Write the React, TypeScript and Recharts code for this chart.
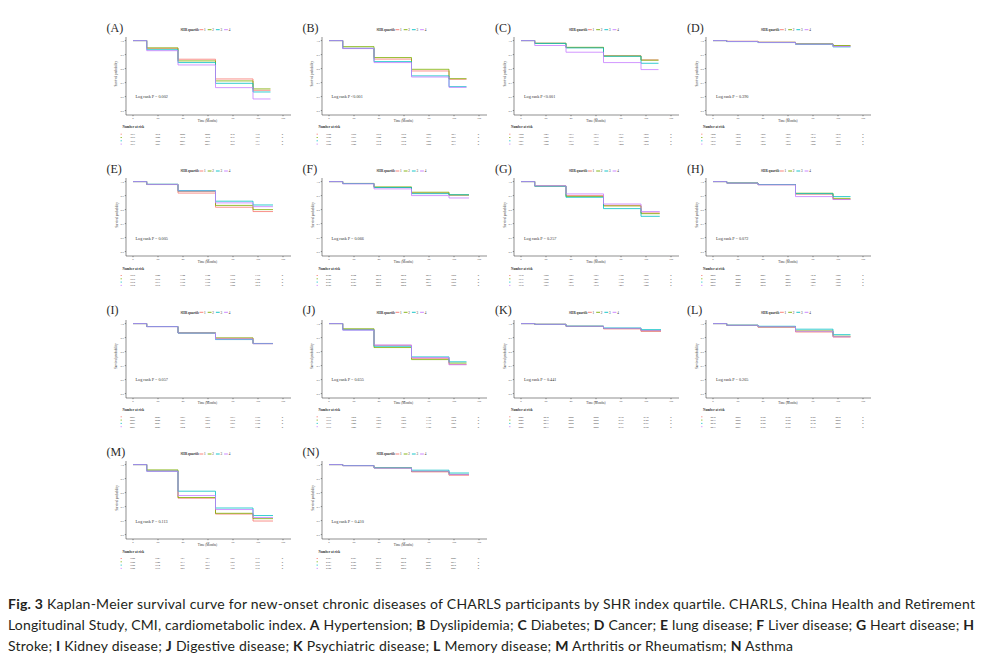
import React from 'react';
import { LineChart, Line, XAxis, YAxis } from 'recharts';

// ggplot default hues for SHR quartile 1..4
const QUARTILE_COLORS = ['#F8766D', '#7CAE00', '#00BFC4', '#C77CFF'];
const quartiles = ['1', '2', '3', '4'];
const panelLetters = ['A', 'B', 'C', 'D', 'E', 'F', 'G', 'H', 'I', 'J', 'K', 'L', 'M', 'N'];

const stepMonths = [0, 11, 36, 66, 96];
const endMonths = [110, 110, 110, 110, 112, 112, 111, 110, 112, 110, 112, 110, 112, 112];
const monthTicks = [0, 20, 40, 60, 80, 100, 120];
const probTicks = [0.5, 0.6, 0.7, 0.8, 0.9, 1.0];

const logRankP = [
  'P = 0.002', 'P <0.001', 'P <0.001', 'P = 0.390',
  'P = 0.005', 'P = 0.066', 'P = 0.257', 'P = 0.072',
  'P = 0.057', 'P = 0.655', 'P = 0.441', 'P = 0.265',
  'P = 0.113', 'P = 0.410',
];

// survival level after each wave (4 drops), one row per quartile
const survA = [[0.945, 0.867, 0.726, 0.645], [0.948, 0.855, 0.712, 0.655], [0.935, 0.843, 0.695, 0.633], [0.928, 0.826, 0.664, 0.583]];
const survB = [[0.945, 0.868, 0.783, 0.724], [0.957, 0.879, 0.795, 0.728], [0.945, 0.85, 0.748, 0.671], [0.943, 0.843, 0.74, 0.666]];
const survC = [[0.981, 0.95, 0.892, 0.862], [0.981, 0.952, 0.89, 0.86], [0.98, 0.948, 0.888, 0.838], [0.965, 0.917, 0.843, 0.793]];
const survD = [[0.995, 0.988, 0.976, 0.962], [0.994, 0.988, 0.977, 0.965], [0.993, 0.986, 0.974, 0.955], [0.994, 0.987, 0.975, 0.958]];
const survE = [[0.979, 0.918, 0.817, 0.786], [0.98, 0.93, 0.83, 0.8], [0.981, 0.936, 0.86, 0.833], [0.98, 0.932, 0.848, 0.821]];
const survF = [[0.986, 0.958, 0.918, 0.903], [0.987, 0.962, 0.924, 0.905], [0.986, 0.958, 0.914, 0.906], [0.984, 0.948, 0.9, 0.883]];
const survG = [[0.969, 0.9, 0.83, 0.776], [0.968, 0.894, 0.826, 0.771], [0.967, 0.888, 0.807, 0.752], [0.97, 0.912, 0.84, 0.786]];
const survH = [[0.99, 0.978, 0.91, 0.873], [0.99, 0.979, 0.917, 0.88], [0.99, 0.979, 0.914, 0.893], [0.989, 0.977, 0.893, 0.872]];
const survI = [[0.979, 0.933, 0.895, 0.858], [0.979, 0.934, 0.898, 0.857], [0.979, 0.932, 0.886, 0.858], [0.978, 0.933, 0.89, 0.856]];
const survJ = [[0.958, 0.845, 0.752, 0.708], [0.963, 0.829, 0.743, 0.718], [0.955, 0.838, 0.762, 0.727], [0.953, 0.847, 0.757, 0.706]];
const survK = [[0.995, 0.98, 0.962, 0.944], [0.995, 0.981, 0.965, 0.95], [0.995, 0.982, 0.969, 0.957], [0.995, 0.981, 0.966, 0.95]];
const survL = [[0.987, 0.974, 0.94, 0.904], [0.988, 0.977, 0.948, 0.91], [0.989, 0.981, 0.96, 0.921], [0.988, 0.977, 0.945, 0.906]];
const survM = [[0.955, 0.76, 0.647, 0.597], [0.962, 0.765, 0.652, 0.614], [0.953, 0.81, 0.69, 0.636], [0.952, 0.779, 0.679, 0.622]];
const survN = [[0.993, 0.976, 0.948, 0.924], [0.993, 0.977, 0.951, 0.93], [0.993, 0.977, 0.96, 0.94], [0.992, 0.975, 0.952, 0.929]];

// number at risk at 0,20,...,120 months
const riskA = [[3237, 3032, 2998, 2998, 930, 770, 0], [3236, 3040, 3010, 3010, 936, 782, 0], [3236, 3022, 2987, 2987, 918, 751, 0], [3237, 3027, 2963, 2963, 885, 716, 0]];
const riskB = [[1622, 1558, 1238, 1238, 1025, 883, 0], [1622, 1557, 1240, 1240, 1033, 898, 0], [1621, 1550, 1230, 1230, 1005, 865, 0], [1622, 1548, 1232, 1232, 1002, 863, 0]];
const riskC = [[1882, 1843, 1813, 1813, 1537, 1255, 0], [1882, 1845, 1816, 1816, 1541, 1262, 0], [1881, 1840, 1813, 1813, 1531, 1248, 0], [1881, 1829, 1788, 1788, 1492, 1210, 0]];
const riskD = [[1980, 1965, 1956, 1956, 1933, 1919, 0], [1975, 1960, 1953, 1953, 1930, 1917, 0], [1975, 1958, 1951, 1951, 1926, 1909, 0], [1976, 1962, 1954, 1954, 1929, 1910, 0]];
const riskE = [[1878, 1840, 1744, 1744, 1558, 1378, 0], [1875, 1838, 1750, 1750, 1570, 1398, 0], [1872, 1837, 1759, 1759, 1599, 1430, 0], [1872, 1838, 1755, 1755, 1590, 1418, 0]];
const riskF = [[2128, 2104, 2070, 2070, 2015, 1958, 0], [2128, 2106, 2075, 2075, 2023, 1964, 0], [2127, 2103, 2068, 2068, 2011, 1955, 0], [2128, 2100, 2060, 2060, 1990, 1925, 0]];
const riskG = [[1638, 1592, 1503, 1503, 1389, 1226, 0], [1637, 1590, 1497, 1497, 1382, 1218, 0], [1637, 1588, 1491, 1491, 1362, 1195, 0], [1638, 1593, 1512, 1512, 1403, 1242, 0]];
const riskH = [[2066, 2045, 2021, 2021, 1934, 1828, 0], [2064, 2044, 2023, 2023, 1946, 1849, 0], [2065, 2044, 2022, 2022, 1940, 1862, 0], [2066, 2043, 2018, 2018, 1911, 1809, 0]];
const riskI = [[2087, 2045, 1953, 1953, 1873, 1755, 0], [2086, 2044, 1955, 1955, 1879, 1758, 0], [2087, 2043, 1951, 1951, 1857, 1752, 0], [2087, 2045, 1954, 1954, 1867, 1749, 0]];
const riskJ = [[1516, 1459, 1281, 1281, 1129, 1005, 0], [1516, 1452, 1255, 1255, 1116, 1014, 0], [1516, 1448, 1268, 1268, 1135, 1023, 0], [1516, 1445, 1283, 1283, 1128, 1002, 0]];
const riskK = [[2246, 2234, 2200, 2200, 2170, 2139, 0], [2245, 2233, 2202, 2202, 2175, 2148, 0], [2245, 2233, 2204, 2204, 2181, 2157, 0], [2246, 2233, 2202, 2202, 2176, 2150, 0]];
const riskL = [[2232, 2205, 2180, 2180, 2105, 2014, 0], [2233, 2208, 2185, 2185, 2120, 2028, 0], [2232, 2209, 2190, 2190, 2134, 2055, 0], [2233, 2207, 2185, 2185, 2116, 2022, 0]];
const riskM = [[1609, 1543, 797, 797, 686, 635, 0], [1609, 1549, 813, 813, 698, 652, 0], [1609, 1534, 856, 856, 736, 678, 0], [1609, 1536, 825, 825, 720, 670, 0]];
const riskN = [[2323, 2307, 2270, 2270, 2235, 2206, 0], [2323, 2306, 2270, 2270, 2241, 2211, 0], [2323, 2308, 2273, 2273, 2247, 2219, 0], [2322, 2305, 2268, 2268, 2236, 2207, 0]];

const survival = [survA, survB, survC, survD, survE, survF, survG, survH, survI, survJ, survK, survL, survM, survN];
const riskTables = [riskA, riskB, riskC, riskD, riskE, riskF, riskG, riskH, riskI, riskJ, riskK, riskL, riskM, riskN];

// layout (px)
const colAxisX = [125.5, 321.5, 514, 706];
const rowTop = [40.7, 182, 323.3, 465];
const PX_PER_MONTH = 1.25;
const PX_PER_PROB = 140;
const PLOT_W = 165;
const PLOT_H = 78;
const X_DOMAIN = [-7 / PX_PER_MONTH, -7 / PX_PER_MONTH + PLOT_W / PX_PER_MONTH];
const Y_DOMAIN = [1 + 3.6 / PX_PER_PROB - PLOT_H / PX_PER_PROB, 1 + 3.6 / PX_PER_PROB];

const SERIF = "'Liberation Serif', 'DejaVu Serif', serif";
const SANS = "Lato, 'Open Sans', sans-serif";

function buildRows(levels: number[][], end: number) {
  const times = [...stepMonths, end];
  return times.map((t, i) => {
    const row: Record<string, number> = { t };
    levels.forEach((lv, q) => {
      row['q' + (q + 1)] = i === 0 ? 1 : lv[Math.min(i - 1, lv.length - 1)];
    });
    return row;
  });
}

const tickStyle = { fontSize: 2.8, fill: '#555', fontFamily: SERIF };

const KMPanel = ({ idx }: { idx: number }) => {
  const col = idx % 4;
  const row = Math.floor(idx / 4);
  const ax = colAxisX[col];
  const top = rowTop[row];
  const data = buildRows(survival[idx], endMonths[idx]);
  return (
    <div style={{ position: 'absolute', left: ax - 20, top: top - 13.6 }}>
      <LineChart width={190} height={108} data={data} margin={{ top: 10, right: 5, bottom: 10, left: 8 }}>
        <XAxis
          dataKey="t"
          type="number"
          domain={X_DOMAIN}
          ticks={monthTicks}
          interval={0}
          height={10}
          allowDataOverflow
          tick={tickStyle}
          tickSize={1.2}
          tickMargin={0.8}
          stroke="#444"
          strokeWidth={0.6}
        />
        <YAxis
          type="number"
          domain={Y_DOMAIN}
          ticks={probTicks}
          interval={0}
          width={12}
          allowDataOverflow
          tick={tickStyle}
          tickSize={1.2}
          tickMargin={0.8}
          tickFormatter={(v: number) => v.toFixed(1)}
          stroke="#444"
          strokeWidth={0.6}
        />
        {quartiles.map((q, k) => (
          <Line
            key={q}
            type="stepAfter"
            dataKey={'q' + q}
            stroke={QUARTILE_COLORS[k]}
            strokeWidth={0.8}
            dot={false}
            activeDot={false}
            isAnimationActive={false}
          />
        ))}
      </LineChart>
    </div>
  );
};

const PanelText = ({ idx }: { idx: number }) => {
  const col = idx % 4;
  const row = Math.floor(idx / 4);
  const ax = colAxisX[col];
  const x0 = ax + 7;
  const top = rowTop[row];
  const legendX = x0 + 48;
  return (
    <g fontFamily={SERIF} fill="#333">
      <text x={ax - 19} y={top - 9} fontSize={12} fill="#2a2a2a">({panelLetters[idx]})</text>
      <text x={legendX} y={top - 9.8} fontSize={3.3} fontWeight="bold">SHR quartile</text>
      {quartiles.map((q, k) => {
        const sx = legendX + 19 + k * 8.2;
        return (
          <g key={q}>
            <line x1={sx} x2={sx + 3.8} y1={top - 11} y2={top - 11} stroke={QUARTILE_COLORS[k]} strokeWidth={0.9} />
            <text x={sx + 4.6} y={top - 9.8} fontSize={3.3}>{q}</text>
          </g>
        );
      })}
      <text
        x={ax - 8}
        y={top + 33}
        fontSize={3.2}
        textAnchor="middle"
        transform={`rotate(-90 ${ax - 8} ${top + 33})`}
      >
        Survival probability
      </text>
      <text x={x0 + 3} y={top + 57.5} fontSize={4.2}>Log rank {logRankP[idx]}</text>
      <text x={x0 + 75} y={top + 81} fontSize={3.2} textAnchor="middle">Time (Months)</text>
      <text x={ax - 3} y={top + 87.5} fontSize={3.3} fontWeight="bold">Number at risk</text>
      {riskTables[idx].map((vals, k) => (
        <g key={k}>
          <line x1={ax - 5} x2={ax - 3.5} y1={top + 93.5 + 3.3 * k} y2={top + 93.5 + 3.3 * k} stroke={QUARTILE_COLORS[k]} strokeWidth={0.7} />
          {vals.map((v, j) => (
            <text key={j} x={x0 + monthTicks[j] * PX_PER_MONTH} y={top + 94.4 + 3.3 * k} fontSize={2.6} textAnchor="middle">
              {v}
            </text>
          ))}
        </g>
      ))}
    </g>
  );
};

const Caption = () => (
  <g fontFamily={SANS} fill="#231f20" fontSize={14}>
    <text x={8} y={609} textLength={967} lengthAdjust="spacing">
      <tspan fontWeight="bold">Fig. 3</tspan>
      {'  Kaplan-Meier survival curve for new-onset chronic diseases of CHARLS participants by SHR index quartile. CHARLS, China Health and Retirement'}
    </text>
    <text x={8} y={630} textLength={966} lengthAdjust="spacing">
      {'Longitudinal Study, CMI, cardiometabolic index. '}
      <tspan fontWeight="bold">A</tspan>{' Hypertension; '}
      <tspan fontWeight="bold">B</tspan>{' Dyslipidemia; '}
      <tspan fontWeight="bold">C</tspan>{' Diabetes; '}
      <tspan fontWeight="bold">D</tspan>{' Cancer; '}
      <tspan fontWeight="bold">E</tspan>{' lung disease; '}
      <tspan fontWeight="bold">F</tspan>{' Liver disease; '}
      <tspan fontWeight="bold">G</tspan>{' Heart disease; '}
      <tspan fontWeight="bold">H</tspan>
    </text>
    <text x={8} y={651} textLength={785} lengthAdjust="spacing">
      {'Stroke; '}
      <tspan fontWeight="bold">I</tspan>{' Kidney disease; '}
      <tspan fontWeight="bold">J</tspan>{' Digestive disease; '}
      <tspan fontWeight="bold">K</tspan>{' Psychiatric disease; '}
      <tspan fontWeight="bold">L</tspan>{' Memory disease; '}
      <tspan fontWeight="bold">M</tspan>{' Arthritis or Rheumatism; '}
      <tspan fontWeight="bold">N</tspan>{' Asthma'}
    </text>
  </g>
);

export default function App() {
  return (
    <div style={{ position: 'absolute', left: 0, top: 0, width: 984, height: 666, background: '#fff', overflow: 'hidden' }}>
      {panelLetters.map((l, i) => (
        <KMPanel key={l} idx={i} />
      ))}
      <svg width={984} height={666} style={{ position: 'absolute', left: 0, top: 0, pointerEvents: 'none' }}>
        {panelLetters.map((l, i) => (
          <PanelText key={l} idx={i} />
        ))}
        <Caption />
      </svg>
    </div>
  );
}
